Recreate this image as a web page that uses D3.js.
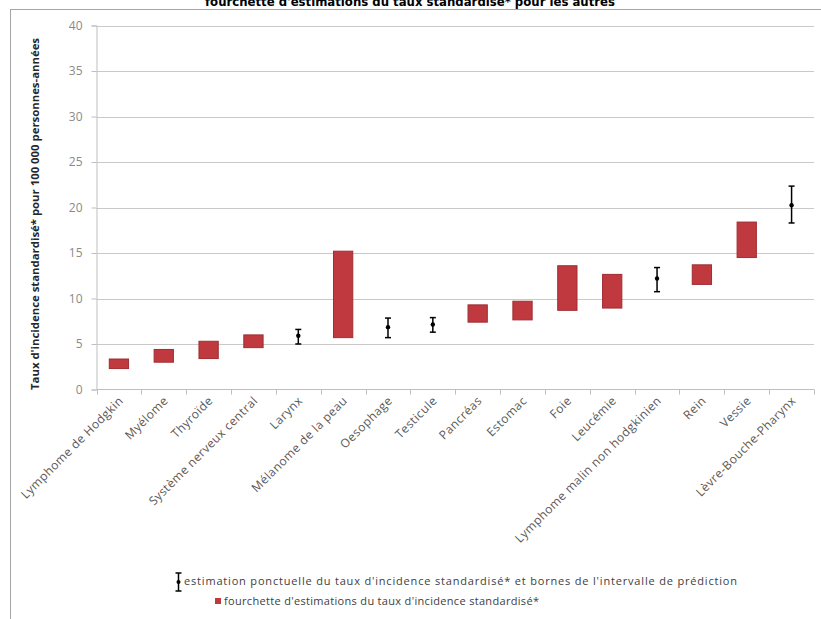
<!DOCTYPE html>
<html>
<head>
<meta charset="utf-8">
<script src="https://cdn.jsdelivr.net/npm/d3@7"></script>
<style>
  html, body { margin: 0; padding: 0; background: #fff; }
  svg { display: block; }
</style>
</head>
<body>
<svg id="chart" width="821" height="619"></svg>
<script>
// Cancer sites, ordered by increasing standardised incidence
const categories = [
  "Lymphome de Hodgkin", "Myélome", "Thyroïde", "Système nerveux central",
  "Larynx", "Mélanome de la peau", "Oesophage", "Testicule", "Pancréas",
  "Estomac", "Foie", "Leucémie", "Lymphome malin non hodgkinien", "Rein",
  "Vessie", "Lèvre-Bouche-Pharynx"
];

// Range of estimates of the standardised rate (null where a point estimate is given)
const rangeLow  = [2.3, 3.0, 3.4, 4.6, null, 5.7, null, null, 7.4, 7.65, 8.7, 8.95, null, 11.55, 14.5, null];
const rangeHigh = [3.35, 4.4, 5.3, 6.0, null, 15.2, null, null, 9.3, 9.7, 13.6, 12.65, null, 13.7, 18.4, null];

// Point estimate and prediction interval bounds
const pointEst  = [null, null, null, null, 5.9, null, 6.85, 7.15, null, null, null, null, 12.2, null, null, 20.25];
const predLow   = [null, null, null, null, 5.0, null, 5.7, 6.3, null, null, null, null, 10.75, null, null, 18.3];
const predHigh  = [null, null, null, null, 6.6, null, 7.85, 7.9, null, null, null, null, 13.4, null, null, 22.35];

const yTicks = [0, 5, 10, 15, 20, 25, 30, 35, 40];

const titleText = "fourchette d'estimations du taux standardisé* pour les autres";
const yTitle = "Taux d'incidence standardisé* pour 100 000 personnes-années";
const legendPoint = "estimation ponctuelle du taux d'incidence standardisé* et bornes de l'intervalle de prédiction";
const legendRange = "fourchette d'estimations du taux d'incidence standardisé*";

const svg = d3.select("#chart");
const barFill = "#c0393e";
const barStroke = "#9e2e33";
const labelFont = "'Open Sans', 'Liberation Sans', sans-serif";

const plot = { left: 96.5, right: 814, top: 25.5, bottom: 389.5 };

const x = d3.scaleBand().domain(categories).range([plot.left, plot.right]).paddingInner(0).paddingOuter(0);
const y = d3.scaleLinear().domain([0, 40]).range([plot.bottom, plot.top]);

// outer frame
svg.append("rect")
  .attr("x", 10.5).attr("y", 9.5)
  .attr("width", 830).attr("height", 640)
  .attr("fill", "none").attr("stroke", "#a6a6a6").attr("stroke-width", 1);

// title (runs off the top edge)
svg.append("text")
  .attr("x", 410).attr("y", 6)
  .attr("text-anchor", "middle")
  .attr("font-family", "'Liberation Sans Narrow', 'DejaVu Sans Condensed', sans-serif")
  .attr("font-weight", "bold")
  .attr("font-size", 13)
  .attr("textLength", 410)
  .attr("lengthAdjust", "spacingAndGlyphs")
  .attr("fill", "#000")
  .text(titleText);

// gridlines
svg.append("g")
  .selectAll("line")
  .data(yTicks.filter(t => t > 0))
  .join("line")
  .attr("x1", plot.left).attr("x2", plot.right)
  .attr("y1", d => Math.round(y(d)) + 0.5).attr("y2", d => Math.round(y(d)) + 0.5)
  .attr("stroke", "#c9c9c9").attr("stroke-width", 1);

// y axis
const yAxis = svg.append("g")
  .attr("transform", `translate(${plot.left},0)`)
  .call(d3.axisLeft(y).tickValues(yTicks).tickSize(5).tickPadding(9).tickFormat(d3.format("d")));
yAxis.select(".domain").attr("stroke", "#bfbfbf");
yAxis.selectAll(".tick line").attr("stroke", "#bfbfbf");
yAxis.selectAll(".tick text")
  .attr("font-family", labelFont).attr("font-size", 12).attr("fill", "#8a8a8a");

// y axis title
svg.append("text")
  .attr("transform", `translate(39,${214}) rotate(-90)`)
  .attr("text-anchor", "middle")
  .attr("font-family", "'Open Sans', sans-serif")
  .attr("font-weight", "bold")
  .attr("font-size", 10.5)
  .attr("textLength", 352)
  .attr("lengthAdjust", "spacingAndGlyphs")
  .attr("fill", "#262626")
  .text(yTitle);

// x axis with boundary ticks
const xAxisG = svg.append("g").attr("transform", `translate(0,${plot.bottom})`);
xAxisG.append("line")
  .attr("x1", plot.left).attr("x2", plot.right)
  .attr("stroke", "#bfbfbf");
const bounds = categories.map(c => x(c)).concat([x(categories[categories.length - 1]) + x.bandwidth()]);
xAxisG.selectAll("line.tk")
  .data(bounds)
  .join("line")
  .attr("class", "tk")
  .attr("x1", d => Math.round(d) + 0.5).attr("x2", d => Math.round(d) + 0.5)
  .attr("y1", 0).attr("y2", 5)
  .attr("stroke", "#bfbfbf");
xAxisG.selectAll("text")
  .data(categories)
  .join("text")
  .attr("transform", d => `translate(${x(d) + x.bandwidth() / 2 + 5},${12}) rotate(-45)`)
  .attr("text-anchor", "end")
  .attr("font-family", labelFont)
  .attr("font-size", 12)
  .attr("letter-spacing", 0.45)
  .attr("fill", "#595959")
  .text(d => d);

// range bars
const barW = x.bandwidth() * 0.43;
svg.append("g")
  .selectAll("rect")
  .data(categories.map((c, i) => ({ c, lo: rangeLow[i], hi: rangeHigh[i] })).filter(d => d.lo != null))
  .join("rect")
  .attr("x", d => x(d.c) + x.bandwidth() / 2 - barW / 2)
  .attr("y", d => y(d.hi))
  .attr("width", barW)
  .attr("height", d => y(d.lo) - y(d.hi))
  .attr("fill", barFill)
  .attr("stroke", barStroke)
  .attr("stroke-width", 1);

// point estimates with prediction intervals
const pts = categories.map((c, i) => ({ c, v: pointEst[i], lo: predLow[i], hi: predHigh[i] })).filter(d => d.v != null);
const eg = svg.append("g").selectAll("g").data(pts).join("g")
  .attr("transform", d => `translate(${x(d.c) + x.bandwidth() / 2},0)`);
eg.append("line")
  .attr("y1", d => y(d.lo)).attr("y2", d => y(d.hi))
  .attr("stroke", "#000").attr("stroke-width", 1.5);
eg.append("line")
  .attr("x1", -3).attr("x2", 3)
  .attr("y1", d => y(d.lo)).attr("y2", d => y(d.lo))
  .attr("stroke", "#000").attr("stroke-width", 1.5);
eg.append("line")
  .attr("x1", -3).attr("x2", 3)
  .attr("y1", d => y(d.hi)).attr("y2", d => y(d.hi))
  .attr("stroke", "#000").attr("stroke-width", 1.5);
eg.append("circle")
  .attr("cy", d => y(d.v)).attr("r", 2.2)
  .attr("fill", "#000");

// legend
const lg = svg.append("g");
const ix = 178.5;
lg.append("line").attr("x1", ix).attr("x2", ix).attr("y1", 573).attr("y2", 591).attr("stroke", "#000").attr("stroke-width", 1.5);
lg.append("line").attr("x1", ix - 3).attr("x2", ix + 3).attr("y1", 573).attr("y2", 573).attr("stroke", "#000").attr("stroke-width", 1.5);
lg.append("line").attr("x1", ix - 3).attr("x2", ix + 3).attr("y1", 591).attr("y2", 591).attr("stroke", "#000").attr("stroke-width", 1.5);
lg.append("circle").attr("cx", ix).attr("cy", 582).attr("r", 2).attr("fill", "#000");
lg.append("text")
  .attr("x", 184).attr("y", 585)
  .attr("font-family", labelFont).attr("font-size", 11)
  .attr("textLength", 553).attr("lengthAdjust", "spacing")
  .attr("fill", "#404040")
  .text(legendPoint);
lg.append("rect")
  .attr("x", 215).attr("y", 598).attr("width", 6).attr("height", 6)
  .attr("fill", barFill);
lg.append("text")
  .attr("x", 224).attr("y", 605)
  .attr("font-family", labelFont).attr("font-size", 11)
  .attr("textLength", 315).attr("lengthAdjust", "spacing")
  .attr("fill", "#404040")
  .text(legendRange);
</script>
</body>
</html>
